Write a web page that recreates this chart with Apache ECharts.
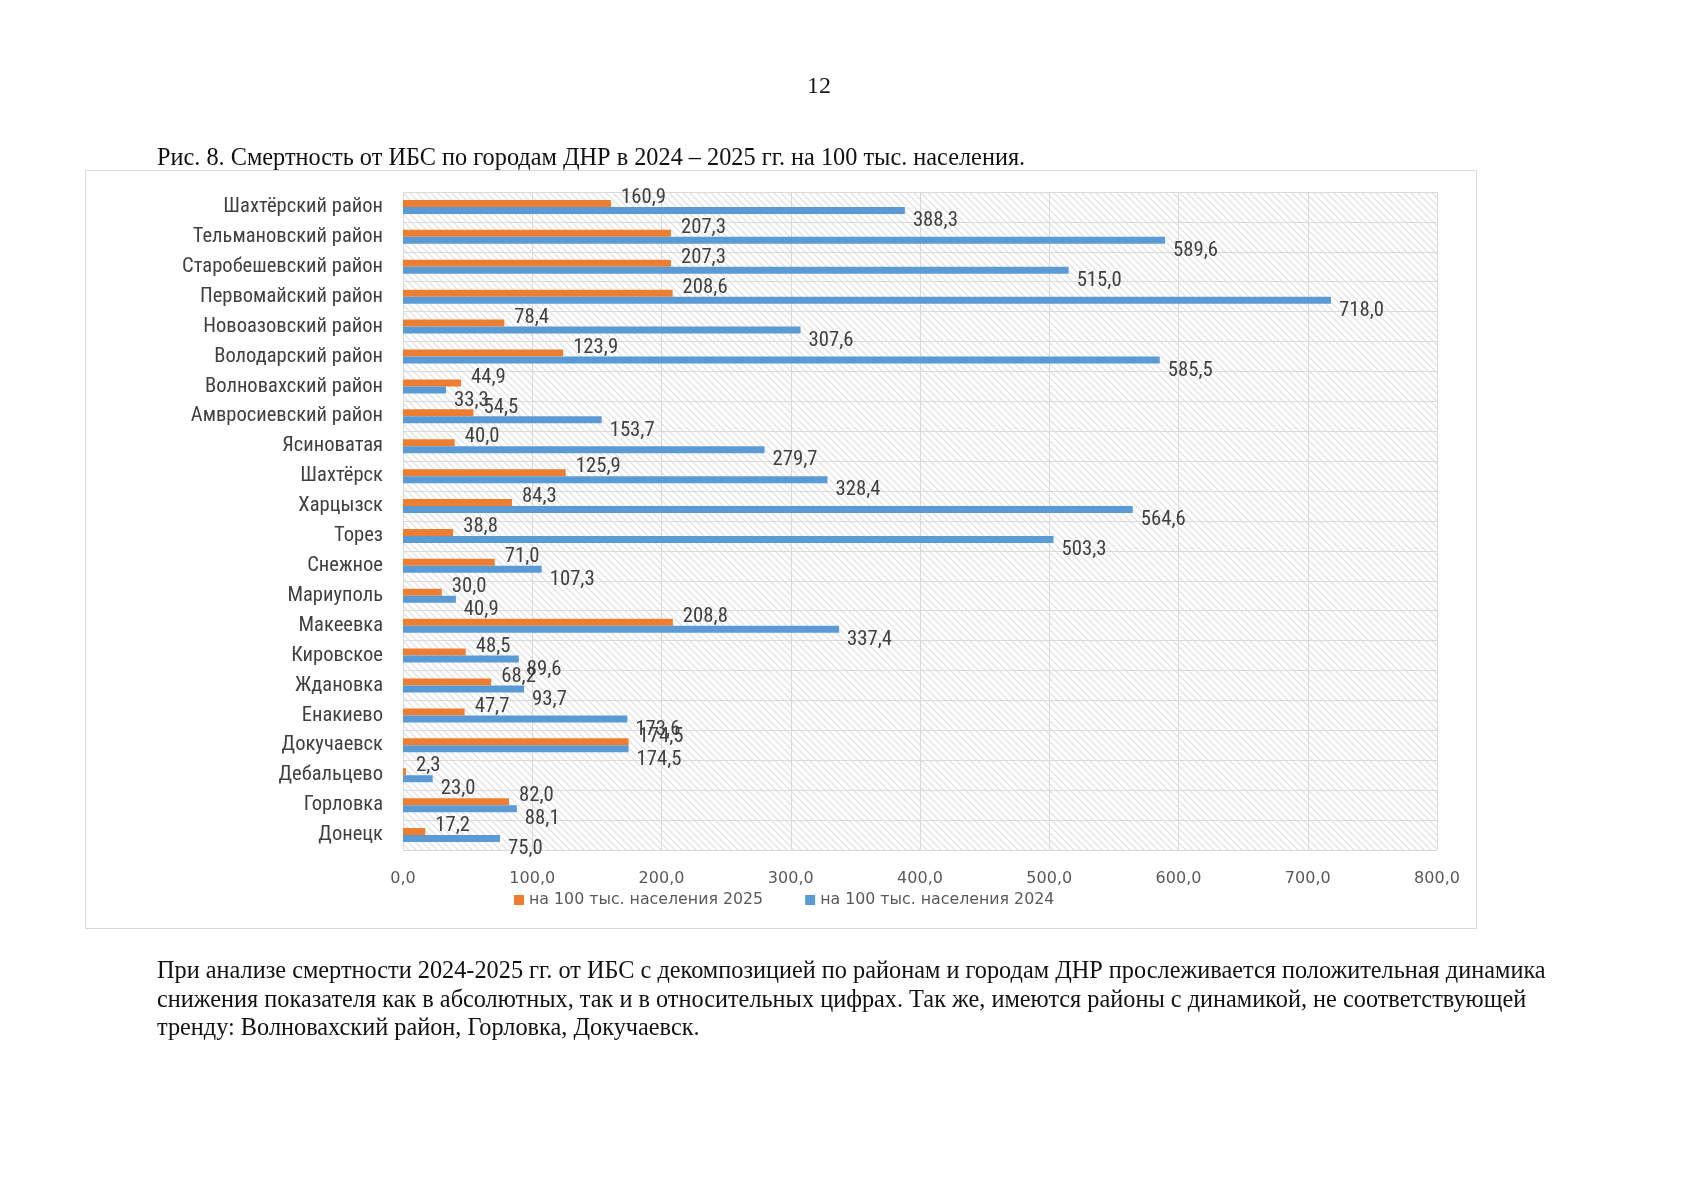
<!DOCTYPE html>
<html>
<head>
<meta charset="utf-8">
<script src="https://cdn.jsdelivr.net/npm/echarts@6/dist/echarts.min.js"></script>
<style>
html,body{margin:0;padding:0;background:#fff;}
#chart{width:1696px;height:1200px;}
</style>
</head>
<body>
<div id="chart"></div>
<script>
// ---- data ----
const categories = ['Шахтёрский район','Тельмановский район','Старобешевский район','Первомайский район','Новоазовский район','Володарский район','Волновахский район','Амвросиевский район','Ясиноватая','Шахтёрск','Харцызск','Торез','Снежное','Мариуполь','Макеевка','Кировское','Ждановка','Енакиево','Докучаевск','Дебальцево','Горловка','Донецк'];
const values2025 = [160.9,207.3,207.3,208.6,78.4,123.9,44.9,54.5,40.0,125.9,84.3,38.8,71.0,30.0,208.8,48.5,68.2,47.7,174.5,2.3,82.0,17.2];
const values2024 = [388.3,589.6,515.0,718.0,307.6,585.5,33.3,153.7,279.7,328.4,564.6,503.3,107.3,40.9,337.4,89.6,93.7,173.6,174.5,23.0,88.1,75.0];
const seriesNames = ['на 100 тыс. населения 2025','на 100 тыс. населения 2024'];
const xTicks = {min:0, max:800, interval:100};
const pageNumber = '12';
const captionText = 'Рис. 8. Смертность от ИБС по городам ДНР в 2024 – 2025 гг. на 100 тыс. населения.';
const bodyLines = [
  'При анализе смертности 2024-2025 гг. от ИБС с декомпозицией по районам и городам ДНР прослеживается положительная динамика',
  'снижения показателя как в абсолютных, так и в относительных цифрах. Так же, имеются районы с динамикой, не соответствующей',
  'тренду: Волновахский район, Горловка, Докучаевск.'
];

function fmt(v){ return Number(v).toFixed(1).replace('.', ','); }

// pick an installed condensed family and size it to the reference text widths
function pickNarrow(){
  const cands = ['Liberation Sans Narrow','Arial Narrow','Roboto Condensed','Noto Sans Condensed','Open Sans Condensed','DejaVu Sans Condensed','Liberation Sans'];
  const ctx = document.createElement('canvas').getContext('2d');
  const s = 'Старобешевский район 160,9';
  function w(font){ ctx.font = font; return ctx.measureText(s).width; }
  for (let i=0;i<cands.length;i++){
    const f = cands[i];
    if (w('40px "'+f+'", monospace') !== w('40px monospace') || w('40px "'+f+'", serif') !== w('40px serif')) {
      return f;
    }
  }
  return 'sans-serif';
}
const narrowFamily = pickNarrow();
function fitSize(family, sample, targetW){
  const ctx = document.createElement('canvas').getContext('2d');
  ctx.font = '40px "' + family + '"';
  return 40 * targetW / ctx.measureText(sample).width;
}
const catFontSize = fitSize(narrowFamily, 'Старобешевский район', 201);
const valFontSize = fitSize(narrowFamily, '160,9', 45);

function hatchPattern(){
  const c = document.createElement('canvas');
  c.width = 7; c.height = 7;
  const g = c.getContext('2d');
  g.fillStyle = '#ffffff'; g.fillRect(0,0,7,7);
  g.strokeStyle = '#e2e2e2'; g.lineWidth = 1.3;
  g.beginPath();
  g.moveTo(-1,-1); g.lineTo(8,8);
  g.moveTo(-1,6); g.lineTo(1,8);
  g.moveTo(6,-1); g.lineTo(8,1);
  g.stroke();
  return c;
}

const narrow = '"' + narrowFamily + '", sans-serif';
const wide = "'DejaVu Sans', sans-serif";
const serif = "'Liberation Serif', 'DejaVu Serif', serif";

const chart = echarts.init(document.getElementById('chart'), null, {renderer:'canvas'});

const graphics = [
  {type:'rect', shape:{x:85.5, y:170.5, width:1391, height:758}, style:{fill:'none', stroke:'#d9d9d9', lineWidth:1}, z:-10},
  {type:'text', left:807, top:75, style:{text:pageNumber, font:'24px ' + serif, fill:'#1a1a1a'}},
  {type:'text', left:157, top:147, style:{text:captionText, font:'24.3px ' + serif, fill:'#111'}}
];
bodyLines.forEach(function(t,i){
  graphics.push({type:'text', left:157, top:960 + i*28.3, style:{text:t, font:'24.3px ' + serif, fill:'#111'}});
});

chart.setOption({
  animation:false,
  backgroundColor:'#ffffff',
  graphic: graphics,
  grid:{left:403, top:192, width:1034, height:658, show:true, borderWidth:0,
        backgroundColor:{image:hatchPattern(), repeat:'repeat'}},
  legend:{
    data:seriesNames, left:509, top:887, icon:'rect', itemWidth:10, itemHeight:10, itemGap:42,
    textStyle:{fontFamily:wide, fontSize:15.8, color:'#595959'}
  },
  xAxis:{
    type:'value', min:xTicks.min, max:xTicks.max, interval:xTicks.interval,
    axisLine:{show:false}, axisTick:{show:false},
    axisLabel:{formatter:fmt, fontFamily:wide, fontSize:16, color:'#595959', margin:21},
    splitLine:{show:true, lineStyle:{color:'#d9d9d9', width:1}}
  },
  yAxis:{
    type:'category', data:categories, inverse:true,
    axisLine:{show:true, lineStyle:{color:'#d9d9d9'}}, axisTick:{show:false},
    axisLabel:{fontFamily:narrow, fontSize:catFontSize, color:'#404040', margin:20},
    splitLine:{show:true, lineStyle:{color:'#d9d9d9', width:1}}
  },
  series:[
    {name:seriesNames[0], type:'bar', data:values2025, barWidth:7, barGap:'0%',
     itemStyle:{color:'#ED7D31'},
     label:{show:true, position:'right', distance:10, offset:[0,-5.5], formatter:function(p){return fmt(p.value);},
            fontFamily:narrow, fontSize:valFontSize, color:'#404040'}},
    {name:seriesNames[1], type:'bar', data:values2024, barWidth:7, barGap:'0%',
     itemStyle:{color:'#5B9BD5'},
     label:{show:true, position:'right', distance:8, offset:[0,10.5], formatter:function(p){return fmt(p.value);},
            fontFamily:narrow, fontSize:valFontSize, color:'#404040'}}
  ]
});
</script>
</body>
</html>
